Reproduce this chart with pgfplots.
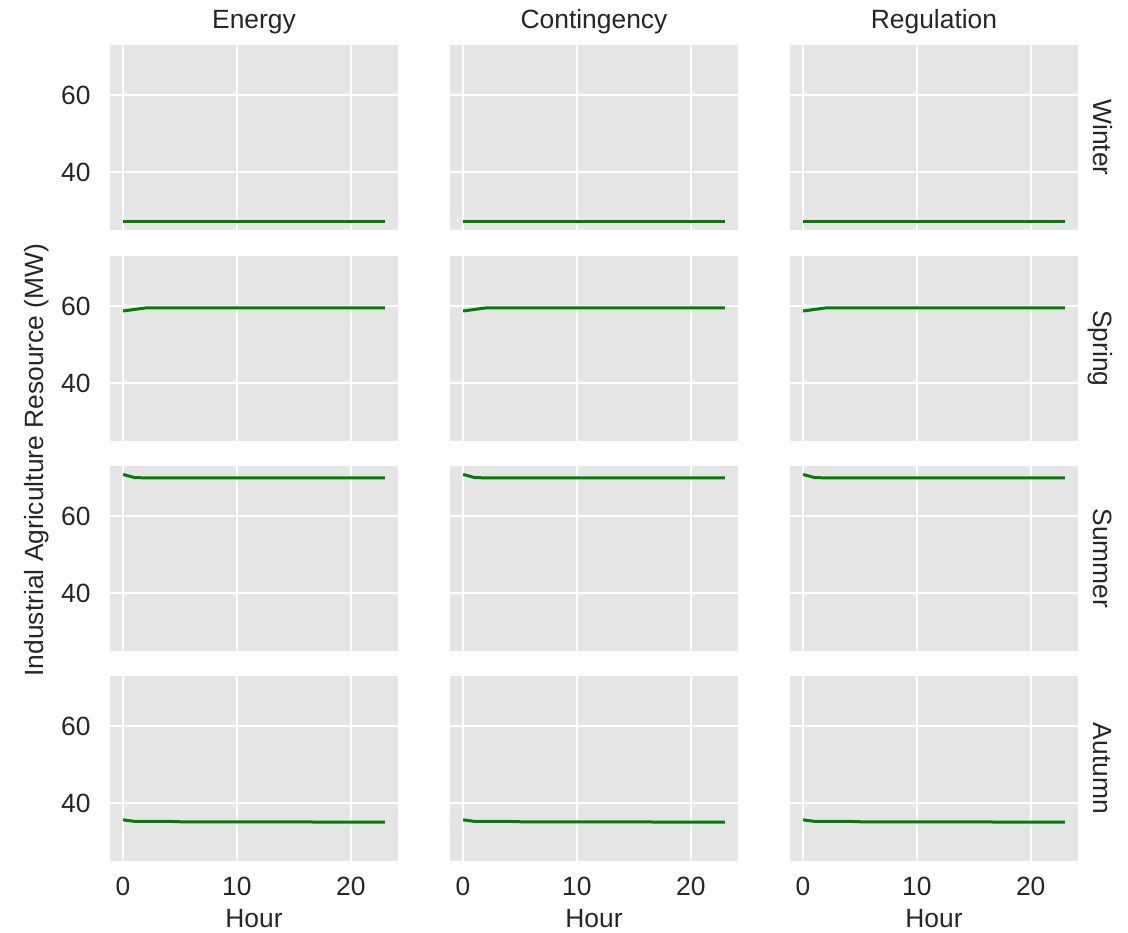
\documentclass[border=0pt]{standalone}
\usepackage{pgfplots}
\usepackage{pgfplotstable}
\pgfplotsset{compat=1.18}
\usepackage{fontspec}
\setmainfont{Liberation Sans}

\definecolor{panelbg}{RGB}{229,229,229}
\definecolor{txt}{RGB}{38,38,38}
\definecolor{mplgreen}{RGB}{0,128,0}

% hourly resource level per season (MW)
\pgfplotstableread{
h v
0 27.2
1 27.2
2 27.2
3 27.2
4 27.2
5 27.2
6 27.2
7 27.2
8 27.2
9 27.2
10 27.2
11 27.2
12 27.2
13 27.2
14 27.2
15 27.2
16 27.2
17 27.2
18 27.2
19 27.2
20 27.2
21 27.2
22 27.2
23 27.2
}\winter
\pgfplotstableread{
h v
0 58.8
1 59.2
2 59.6
3 59.6
4 59.6
5 59.6
6 59.6
7 59.6
8 59.6
9 59.6
10 59.6
11 59.6
12 59.6
13 59.6
14 59.6
15 59.6
16 59.6
17 59.6
18 59.6
19 59.6
20 59.6
21 59.6
22 59.6
23 59.6
}\spring
\pgfplotstableread{
h v
0 70.9
1 70.1
2 70.0
3 70.0
4 70.0
5 70.0
6 70.0
7 70.0
8 70.0
9 70.0
10 70.0
11 70.0
12 70.0
13 70.0
14 70.0
15 70.0
16 70.0
17 70.0
18 70.0
19 70.0
20 70.0
21 70.0
22 70.0
23 70.0
}\summer
\pgfplotstableread{
h v
0 35.7
1 35.3
2 35.3
3 35.3
4 35.3
5 35.2
6 35.2
7 35.2
8 35.2
9 35.2
10 35.2
11 35.2
12 35.2
13 35.2
14 35.2
15 35.2
16 35.2
17 35.1
18 35.1
19 35.1
20 35.1
21 35.1
22 35.1
23 35.1
}\autumn

\pgfplotsset{
  panel/.style={
    scale only axis, width=144bp, height=92.5bp, anchor=north west,
    xmin=-1.15, xmax=24.15, ymin=25, ymax=73.1,
    xtick={0,10,20}, ytick={40,60},
    axis background/.style={fill=panelbg},
    axis line style={draw=none}, major tick length=0pt,
    grid=major, grid style={white, line width=1.1bp},
    clip=false,
    font=\fontsize{13.2bp}{16bp}\selectfont,
    /pgf/number format/assume math mode=true,
    ticklabel style={text=txt, font=\fontsize{13.2bp}{16bp}\selectfont},
    xticklabel style={anchor=north, inner sep=0pt, yshift=-8bp},
    yticklabel style={anchor=east, inner sep=0pt, xshift=-9.5bp},
    every axis title/.style={at={(rel axis cs:0.5,1)}, anchor=base,
      yshift=8bp, text=txt, inner sep=0pt},
    xlabel style={at={(rel axis cs:0.5,0)}, anchor=base, yshift=-33.5bp, text=txt, inner sep=0pt},
  },
  noy/.style={yticklabels={}},
  nox/.style={xticklabels={}},
  season line/.style={mplgreen, line width=1.5bp, no marks},
}

% one facet: x px, y px, table, options, row label
\newcommand{\panel}[5]{%
\begin{axis}[panel, at={(#1*0.5bp,-#2*0.5bp)}, #4]
\addplot[season line] table[x=h, y=v] {#3};
\node[xshift=8bp, rotate=-90, anchor=base, inner sep=0pt, text=txt] at (rel axis cs:1,0.5) {#5};
\end{axis}}

\begin{document}
\begin{tikzpicture}
\path[use as bounding box] (0,0) rectangle (564bp,-466.5bp);

\panel{110}{45}{\winter}{nox, title=Energy}{}
\panel{450}{45}{\winter}{nox, noy, title=Contingency}{}
\panel{790}{45}{\winter}{nox, noy, title=Regulation}{Winter}

\panel{110}{256}{\spring}{nox}{}
\panel{450}{256}{\spring}{nox, noy}{}
\panel{790}{256}{\spring}{nox, noy}{Spring}

\panel{110}{466}{\summer}{nox}{}
\panel{450}{466}{\summer}{nox, noy}{}
\panel{790}{466}{\summer}{nox, noy}{Summer}

\panel{110}{676}{\autumn}{xlabel=Hour}{}
\panel{450}{676}{\autumn}{noy, xlabel=Hour}{}
\panel{790}{676}{\autumn}{noy, xlabel=Hour}{Autumn}

\node[rotate=90, anchor=base, inner sep=0pt, text=txt,
      font=\fontsize{13.2bp}{16bp}\selectfont] at (21.5bp,-230bp)
  {Industrial Agriculture Resource (MW)};
\end{tikzpicture}
\end{document}
